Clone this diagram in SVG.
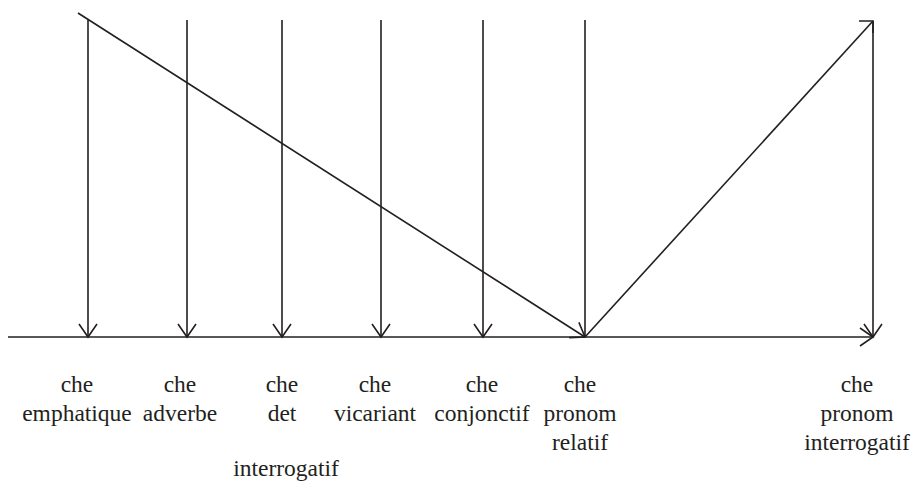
<svg xmlns="http://www.w3.org/2000/svg" width="914" height="482" viewBox="0 0 914 482">
<style>
.ln{stroke:#231f20;stroke-width:1.6;fill:none}
.lb{font-family:'Liberation Serif','Times New Roman','DejaVu Serif',serif;font-size:23.5px;fill:#231f20;text-anchor:middle}
</style>
<defs>
<marker id="ah" markerUnits="userSpaceOnUse" markerWidth="30" markerHeight="30" viewBox="-15 -15 30 30" refX="0" refY="0" orient="auto">
<path d="M-13,-9 L0,0 L-13,9" fill="none" stroke="#231f20" stroke-width="1.6"/>
</marker>
</defs>
<rect width="914" height="482" fill="#ffffff"/>
<g id="connectors">
<line class="ln" x1="8" y1="337" x2="873" y2="337" marker-end="url(#ah)"/>
<line class="ln" x1="88" y1="20" x2="88" y2="337" marker-end="url(#ah)"/>
<line class="ln" x1="187" y1="20" x2="187" y2="337" marker-end="url(#ah)"/>
<line class="ln" x1="282" y1="20" x2="282" y2="337" marker-end="url(#ah)"/>
<line class="ln" x1="381" y1="20" x2="381" y2="337" marker-end="url(#ah)"/>
<line class="ln" x1="483" y1="20" x2="483" y2="337" marker-end="url(#ah)"/>
<line class="ln" x1="585" y1="20" x2="585" y2="337"/>
<line class="ln" x1="78" y1="13" x2="585" y2="337" marker-end="url(#ah)"/>
<line class="ln" x1="585" y1="337" x2="873" y2="21"/>
<path class="ln" d="M859,21 L873,21 L873,33"/>
<line class="ln" x1="873" y1="21" x2="873" y2="337" marker-end="url(#ah)"/>
</g>
<g id="n-emphatique" class="lb" font-family="Liberation Serif, serif"><text x="77" y="392">che</text><text x="77" y="421">emphatique</text></g>
<g id="n-adverbe" class="lb" font-family="Liberation Serif, serif"><text x="180" y="392">che</text><text x="180" y="421">adverbe</text></g>
<g id="n-det" class="lb" font-family="Liberation Serif, serif"><text x="282" y="392">che</text><text x="282" y="421">det</text><text x="286" y="476">interrogatif</text></g>
<g id="n-vicariant" class="lb" font-family="Liberation Serif, serif"><text x="375" y="392">che</text><text x="375" y="421">vicariant</text></g>
<g id="n-conjonctif" class="lb" font-family="Liberation Serif, serif"><text x="482" y="392">che</text><text x="482" y="421">conjonctif</text></g>
<g id="n-relatif" class="lb" font-family="Liberation Serif, serif"><text x="580" y="392">che</text><text x="580" y="421">pronom</text><text x="580" y="450">relatif</text></g>
<g id="n-interrogatif" class="lb" font-family="Liberation Serif, serif"><text x="857" y="392">che</text><text x="857" y="421">pronom</text><text x="857" y="450">interrogatif</text></g>
</svg>
